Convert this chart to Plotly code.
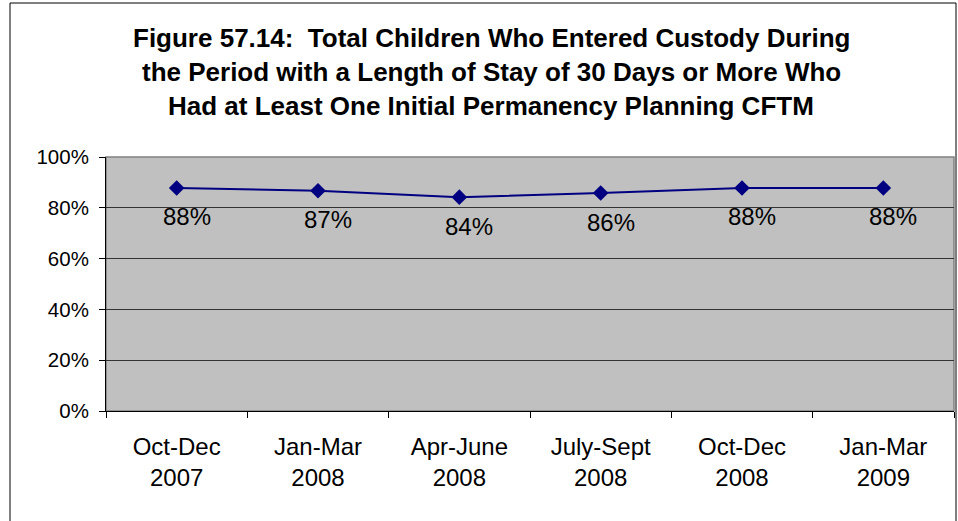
import plotly.graph_objects as go

periods = ["Oct-Dec<br>2007", "Jan-Mar<br>2008", "Apr-June<br>2008",
           "July-Sept<br>2008", "Oct-Dec<br>2008", "Jan-Mar<br>2009"]
pct_values = [0.878, 0.867, 0.842, 0.858, 0.878, 0.878]
y_ticks = [0, 0.2, 0.4, 0.6, 0.8, 1.0]
y_tick_labels = ["0%", "20%", "40%", "60%", "80%", "100%"]
title_lines = [
    "Figure 57.14:  Total Children Who Entered Custody During",
    "the Period with a Length of Stay of 30 Days or More Who",
    "Had at Least One Initial Permanency Planning CFTM",
]

FONT = "Liberation Sans, Arial, sans-serif"

fig = go.Figure()
fig.add_trace(go.Scatter(
    x=periods, y=pct_values, mode="lines+markers",
    line=dict(color="#000080", width=2),
    marker=dict(symbol="diamond", size=12, color="#000080"),
    hoverinfo="skip", showlegend=False,
))

for xv, yv in zip(periods, pct_values):
    fig.add_annotation(
        x=xv, y=yv, text=f"{round(yv*100)}%", showarrow=False,
        xshift=10, yshift=-29, yanchor="middle", xanchor="center",
        font=dict(family=FONT, size=24, color="#000000"),
    )

title_y = [38.5, 72.5, 106.5]
for i, t in enumerate(title_lines):
    fig.add_annotation(
        x=(491 - 106) / 848, y=(411 - title_y[i]) / 254,
        xref="paper", yref="paper", text=f"<b>{t}</b>", showarrow=False,
        xanchor="center", yanchor="middle",
        font=dict(family=FONT, size=26, color="#000000"),
    )

# outer chart border
fig.add_shape(type="rect", xref="paper", yref="paper",
              x0=(10 - 106) / 848, x1=(956 - 106) / 848,
              y0=(411 - 540) / 254, y1=(411 - 3) / 254,
              line=dict(color="#000000", width=1), layer="below")
# plot area border
fig.add_shape(type="rect", xref="paper", yref="paper",
              x0=0, x1=1, y0=0, y1=1,
              line=dict(color="#808080", width=1.5), layer="below")

fig.update_layout(
    width=958, height=521,
    margin=dict(l=106, r=4, t=157, b=110),
    paper_bgcolor="#FFFFFF", plot_bgcolor="#C0C0C0",
    font=dict(family=FONT, color="#000000"),
    showlegend=False,
)
fig.update_xaxes(
    type="category", tickson="boundaries", ticks="outside", ticklen=6,
    tickcolor="#000000", showline=True, linecolor="#000000", linewidth=1,
    showgrid=False, tickfont=dict(family=FONT, size=24),
    ticklabelstandoff=14, range=[-0.5, 5.5],
)
fig.update_yaxes(
    range=[0, 1], tickvals=y_ticks, ticktext=y_tick_labels,
    ticks="outside", ticklen=6, tickcolor="#000000",
    showline=True, linecolor="#000000", linewidth=1,
    showgrid=True, gridcolor="#333333", gridwidth=1, zeroline=False,
    tickfont=dict(family=FONT, size=20.5), ticklabelstandoff=6,
)

fig.write_html(
    "out.html",
    config={"displayModeBar": False},
    post_script="document.body.style.margin='0';document.body.style.overflow='hidden';",
)
